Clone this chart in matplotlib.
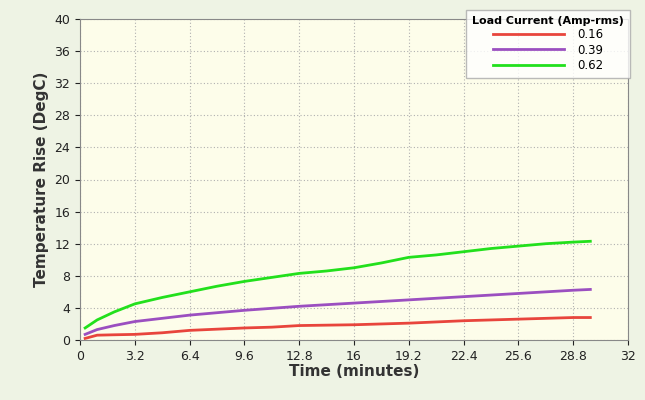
import matplotlib
matplotlib.use("Agg")
import matplotlib.pyplot as plt

time_min = [0.3, 1.0, 2.0, 3.2, 4.8, 6.4, 8.0, 9.6, 11.2, 12.8, 14.4, 16.0, 17.6, 19.2, 20.8, 22.4, 24.0, 25.6, 27.2, 28.8, 29.8]
i016 = [0.2, 0.6, 0.65, 0.7, 0.9, 1.2, 1.35, 1.5, 1.6, 1.8, 1.85, 1.9, 2.0, 2.1, 2.25, 2.4, 2.5, 2.6, 2.7, 2.8, 2.8]
i039 = [0.7, 1.3, 1.8, 2.3, 2.7, 3.1, 3.4, 3.7, 3.95, 4.2, 4.4, 4.6, 4.8, 5.0, 5.2, 5.4, 5.6, 5.8, 6.0, 6.2, 6.3]
i062 = [1.5, 2.5, 3.5, 4.5, 5.3, 6.0, 6.7, 7.3, 7.8, 8.3, 8.6, 9.0, 9.6, 10.3, 10.6, 11.0, 11.4, 11.7, 12.0, 12.2, 12.3]
labels = ["0.16", "0.39", "0.62"]
colors = ["#e8453c", "#9b4fc0", "#22e01c"]
xticks = [0, 3.2, 6.4, 9.6, 12.8, 16, 19.2, 22.4, 25.6, 28.8, 32]
yticks = list(range(0, 41, 4))

fig = plt.figure(figsize=(6.45, 4.0), dpi=100)
fig.patch.set_facecolor("#eef3e4")
ax = fig.add_axes([80/645, 60/400, 548/645, 321/400])
ax.set_facecolor("#fdfdea")
for y, lab, c in zip([i016, i039, i062], labels, colors):
    ax.plot(time_min, y, color=c, lw=2, label=lab)
ax.set_xlim(0, 32); ax.set_ylim(0, 40)
ax.set_xticks(xticks); ax.set_xticklabels([f"{t:g}" for t in xticks])
ax.set_yticks(yticks)
ax.grid(True, color="#b0b0b0", linestyle=(0, (1, 2)), lw=0.8)
for s in ax.spines.values():
    s.set_color("#888888")
ax.tick_params(labelsize=9, colors="#222222")
ax.set_xlabel("Time (minutes)", fontsize=11, fontweight="bold", color="#333333", labelpad=1)
ax.set_ylabel("Temperature Rise (DegC)", fontsize=11, fontweight="bold", color="#333333")
leg = fig.legend(title="Load Current (Amp-rms)", loc="upper right", fontsize=8.5,
                 bbox_to_anchor=(636/645, 396/400),
                 title_fontproperties={"size": 8, "weight": "bold"}, fancybox=False,
                 frameon=True, edgecolor="#aaaaaa", handlelength=6, labelspacing=0.2,
                 handletextpad=1.2, borderpad=0.5)
leg.get_frame().set_facecolor("#ffffff")
fig.savefig("out.png", dpi=100, facecolor=fig.get_facecolor())
